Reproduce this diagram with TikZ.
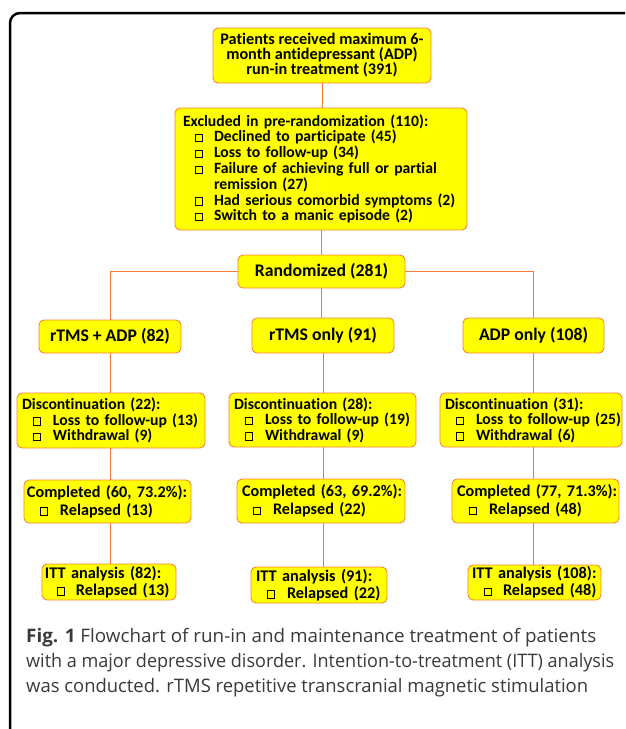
\documentclass[tikz,border=0pt]{standalone}
\usepackage{graphicx}
\usepackage{fontspec}
\setmainfont{Carlito}[Ligatures={NoCommon}]
\newfontfamily\capfont{Open Sans}[Ligatures={NoCommon}]
\definecolor{boxfill}{HTML}{FFFF00}
\definecolor{boxline}{HTML}{F5843A}
\definecolor{connline}{HTML}{F47B35}
\definecolor{captext}{HTML}{3A3A3A}
\newcommand\cbx{\raisebox{0.6pt}{\setlength{\fboxsep}{0pt}\setlength{\fboxrule}{0.8pt}\fbox{\rule{0pt}{6.5pt}\hspace{6.5pt}}}}
\newcommand\itm[3]{\mbox{\makebox[#2][l]{\hspace*{#1}\cbx}#3}}
\tikzset{
  flowbox/.style={draw=boxline, fill=boxfill, rounded corners=5pt, line width=0.9pt, inner ysep=0pt},
  leftbox/.style 2 args={flowbox, align=left, inner xsep=#2, text width=#1-2*#2},
  conn/.style={draw=connline, line width=0.9pt},
  capline/.style={anchor=base west, inner sep=0pt, text=captext, font=\capfont\fontsize{18.6}{22}\selectfont},
}
\begin{document}
\begin{tikzpicture}[x=1pt,y=-1pt]
\clip (0,0) rectangle (625,729);
\useasboundingbox (0,0) rectangle (625,729);
\fill[white] (0,0) rectangle (625,729);
\draw[black, line width=2.5pt, rounded corners=10pt] (10,13) rectangle (680,780);

% top
\node[flowbox, align=center, minimum width=218pt, minimum height=55pt, font=\bfseries\fontsize{16.2}{15}\selectfont] (top) at (322,55.5)
  {\mbox{Patients received maximum 6-}\\\mbox{month antidepressant (ADP)}\\\mbox{run-in treatment (391)}};
\node[leftbox={292pt}{8pt}, minimum height=122pt, font=\bfseries\fontsize{15.7}{15.8}\selectfont] (excl) at (321,169)
  {\mbox{Excluded in pre-randomization (110):}\\
   \itm{12pt}{31pt}{Declined to participate (45)}\\
   \itm{12pt}{31pt}{Loss to follow-up (34)}\\
   \itm{12pt}{31pt}{Failure of achieving full or partial}\\
   \mbox{\hspace*{31pt}remission (27)}\\
   \itm{12pt}{31pt}{Had serious comorbid symptoms (2)}\\
   \itm{12pt}{31pt}{Switch to a manic episode (2)}};
\node[flowbox, minimum width=167pt, minimum height=33pt, font=\bfseries\fontsize{17.7}{20}\selectfont] (rand) at (321.5,271.5) {Randomized (281)};

\node[flowbox, minimum width=142pt, minimum height=33pt, font=\bfseries\fontsize{17.7}{20}\selectfont] (armA) at (110,336.5) {rTMS + ADP (82)};
\node[flowbox, minimum width=142pt, minimum height=35pt, font=\bfseries\fontsize{17.7}{20}\selectfont] (armB) at (323,335.5) {rTMS only (91)};
\node[flowbox, minimum width=141pt, minimum height=35pt, font=\bfseries\fontsize{17.7}{20}\selectfont] (armC) at (533.5,335.5) {ADP only (108)};

\node[leftbox={188pt}{5pt}, minimum height=55pt, font=\bfseries\fontsize{15.7}{15.5}\selectfont] (discA) at (111,420.5)
  {\mbox{Discontinuation (22):}\\\itm{11pt}{31pt}{Loss to follow-up (13)}\\\itm{11pt}{31pt}{Withdrawal (9)}};
\node[leftbox={187pt}{5pt}, minimum height=54pt, font=\bfseries\fontsize{15.7}{15.5}\selectfont] (discB) at (322.5,420)
  {\mbox{Discontinuation (28):}\\\itm{11pt}{31pt}{Loss to follow-up (19)}\\\itm{11pt}{31pt}{Withdrawal (9)}};
\node[leftbox={182pt}{5pt}, minimum height=54pt, font=\bfseries\fontsize{15.7}{15.5}\selectfont] (discC) at (531,420)
  {\mbox{Discontinuation (31):}\\\itm{11pt}{31pt}{Loss to follow-up (25)}\\\itm{11pt}{31pt}{Withdrawal (6)}};

\node[leftbox={167pt}{3pt}, minimum height=43pt, font=\bfseries\fontsize{16.2}{18}\selectfont] (compA) at (107.5,501.5)
  {\mbox{Completed (60, 73.2\%):}\\\itm{13pt}{33pt}{Relapsed (13)}};
\node[leftbox={168pt}{5pt}, minimum height=44pt, font=\bfseries\fontsize{16.2}{18}\selectfont] (compB) at (321,501)
  {\mbox{Completed (63, 69.2\%):}\\\itm{11pt}{31pt}{Relapsed (22)}};
\node[leftbox={167pt}{5pt}, minimum height=44pt, font=\bfseries\fontsize{16.2}{18}\selectfont] (compC) at (535.5,501)
  {\mbox{Completed (77, 71.3\%):}\\\itm{12pt}{32pt}{Relapsed (48)}};

\node[leftbox={134pt}{3pt}, minimum height=36pt, font=\bfseries\fontsize{16.3}{17}\selectfont] (ittA) at (109,582)
  {\mbox{ITT analysis (82):}\\\itm{12pt}{31pt}{Relapsed (13)}};
\node[leftbox={136pt}{5pt}, minimum height=36pt, font=\bfseries\fontsize{16.3}{17}\selectfont] (ittB) at (319,585)
  {\mbox{ITT analysis (91):}\\\itm{11pt}{31pt}{Relapsed (22)}};
\node[leftbox={133pt}{4pt}, minimum height=35pt, font=\bfseries\fontsize{16.3}{17}\selectfont] (ittC) at (534.5,582.5)
  {\mbox{ITT analysis (108):}\\\itm{12pt}{31pt}{Relapsed (48)}};

% connectors
\draw[conn] (top.south) -- (top.south |- excl.north);
\draw[conn] (excl.south) -- (excl.south |- rand.north);
\draw[conn] (rand.west) -| (armA.north);
\draw[conn] (rand.east) -| (armC.north);
\draw[conn] (rand.south) -- (rand.south |- armB.north);
\draw[conn] (armA.south) -- (armA.south |- discA.north);
\draw[conn] (armB.south) -- (armB.south |- discB.north);
\draw[conn] (armC.south) -- (armC.south |- discC.north);
\draw[conn] (armA.south |- discA.south) -- (armA.south |- compA.north);
\draw[conn] (armB.south |- discB.south) -- (armB.south |- compB.north);
\draw[conn] (armC.south |- discC.south) -- (armC.south |- compC.north);
\draw[conn] (armA.south |- compA.south) -- (armA.south |- ittA.north);
\draw[conn] (armB.south |- compB.south) -- (armB.south |- ittB.north);
\draw[conn] (armC.south |- compC.south) -- (armC.south |- ittC.north);

% caption
\node[capline] (cap1) at (26,642) {\resizebox{570pt}{\height}{{\bfseries Fig. 1} Flowchart of run-in and maintenance treatment of patients}};
\node[capline] (cap2) at (26,667) {\resizebox{588pt}{\height}{with a major depressive disorder. Intention-to-treatment (ITT) analysis}};
\node[capline] (cap3) at (26,692) {\resizebox{562pt}{\height}{was conducted. rTMS repetitive transcranial magnetic stimulation}};
\end{tikzpicture}
\end{document}
